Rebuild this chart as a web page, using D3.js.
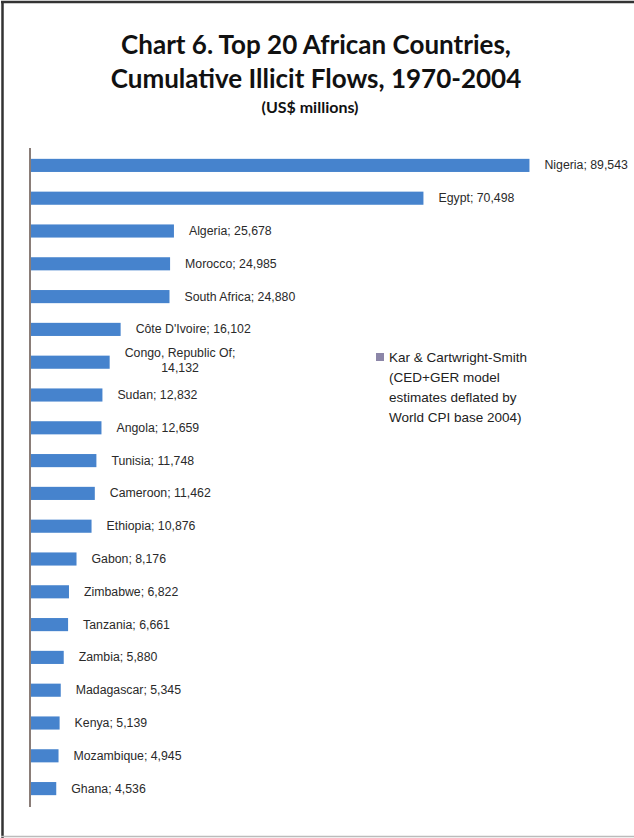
<!DOCTYPE html>
<html>
<head>
<meta charset="utf-8">
<script src="https://cdn.jsdelivr.net/npm/d3@7"></script>
<style>
  body { margin: 0; background: #fff; }
  svg { display: block; }
</style>
</head>
<body>
<div id="chart"></div>
<script>
var countries = ["Nigeria", "Egypt", "Algeria", "Morocco", "South Africa", "Côte D'Ivoire",
  "Congo, Republic Of", "Sudan", "Angola", "Tunisia", "Cameroon", "Ethiopia", "Gabon",
  "Zimbabwe", "Tanzania", "Zambia", "Madagascar", "Kenya", "Mozambique", "Ghana"];
var flows = [89543, 70498, 25678, 24985, 24880, 16102, 14132, 12832, 12659, 11748,
  11462, 10876, 8176, 6822, 6661, 5880, 5345, 5139, 4945, 4536];
var wrapLabels = ["Congo, Republic Of"];
var titleLines = ["Chart 6. Top 20 African Countries,", "Cumulative Illicit Flows, 1970-2004"];
var subtitle = "(US$ millions)";
var legendLines = ["Kar & Cartwright-Smith", "(CED+GER model", "estimates deflated by", "World CPI base 2004)"];

var svgWidth = 634,
	svgHeight = 838,
	barColour = "#4683cd";

var svg = d3.select('#chart')
	.append('svg')
		.attr('width', svgWidth)
		.attr('height', svgHeight);

// page frame: dark top/left, light bottom
svg.append('line').attr('x1', 2.5).attr('x2', 2.5).attr('y1', 1).attr('y2', 838)
	.attr('stroke', '#333').attr('stroke-width', 2.5);
svg.append('line').attr('x1', 1).attr('x2', 634).attr('y1', 2).attr('y2', 2)
	.attr('stroke', '#333').attr('stroke-width', 2.5);
svg.append('line').attr('x1', 1).attr('x2', 634).attr('y1', 836.5).attr('y2', 836.5)
	.attr('stroke', '#bbb').attr('stroke-width', 1.5);

// title
svg.selectAll('text.title').data(titleLines)
	.enter().append('text')
		.attr('class', 'title')
		.attr('x', 316)
		.attr('y', function (d, i) { return 54 + i * 34; })
		.attr('text-anchor', 'middle')
		.style('font-family', 'Lato, "Open Sans", sans-serif')
		.style('font-weight', 'bold')
		.style('font-size', '26px')
		.style('fill', '#111')
		.text(function (d) { return d; });

svg.append('text')
	.attr('x', 310)
	.attr('y', 113)
	.attr('text-anchor', 'middle')
	.style('font-family', 'Lato, "Open Sans", sans-serif')
	.style('font-weight', 'bold')
	.style('font-size', '16px')
	.style('fill', '#111')
	.text(subtitle);

var xscale = d3.scaleLinear()
	.domain([0, 90000])
	.range([31, 532]);

var yscale = d3.scaleBand()
	.domain(countries)
	.range([149, 805])
	.paddingInner(0.6)
	.paddingOuter(0.3);

// vertical axis line
svg.append('line')
	.attr('x1', 30).attr('x2', 30)
	.attr('y1', 148).attr('y2', 807)
	.attr('stroke', '#8a7d78')
	.attr('stroke-width', 2);

svg.selectAll('rect.bar').data(flows)
	.enter().append('rect')
		.attr('class', 'bar')
		.attr('x', xscale(0))
		.attr('y', function (d, i) { return yscale(countries[i]); })
		.attr('width', function (d) { return xscale(d) - xscale(0); })
		.attr('height', yscale.bandwidth())
		.style('fill', barColour);

var fmt = d3.format(',');

var labels = svg.selectAll('text.lbl').data(flows)
	.enter().append('text')
		.attr('class', 'lbl')
		.style('font-family', '"Liberation Sans", Arial, sans-serif')
		.style('font-size', '12.3px')
		.style('fill', '#2a2a2a')
		.attr('dominant-baseline', 'central');

labels.each(function (d, i) {
	var name = countries[i],
		cy = yscale(name) + yscale.bandwidth() / 2,
		x0 = xscale(d) + 15,
		t = d3.select(this);
	if (wrapLabels.indexOf(name) >= 0) {
		var l1 = name + ";", l2 = fmt(d);
		t.attr('text-anchor', 'middle');
		var tmp = t.append('tspan').text(l1);
		var w = tmp.node().getComputedTextLength();
		tmp.attr('x', x0 + w / 2).attr('y', cy - 9);
		t.append('tspan').attr('x', x0 + w / 2).attr('y', cy + 6).text(l2);
	} else {
		t.attr('x', x0).attr('y', cy).text(name + "; " + fmt(d));
	}
});

// legend
var legend = svg.append('g').attr('transform', 'translate(376,357)');
legend.append('rect')
	.attr('x', 0).attr('y', -4)
	.attr('width', 8).attr('height', 8)
	.style('fill', '#8c86a8');
legend.selectAll('text').data(legendLines)
	.enter().append('text')
		.attr('x', 13)
		.attr('y', function (d, i) { return i * 20.3; })
		.attr('dominant-baseline', 'central')
		.style('font-family', '"Liberation Sans", Arial, sans-serif')
		.style('font-size', '13.5px')
		.style('fill', '#222')
		.text(function (d) { return d; });
</script>
</body>
</html>
